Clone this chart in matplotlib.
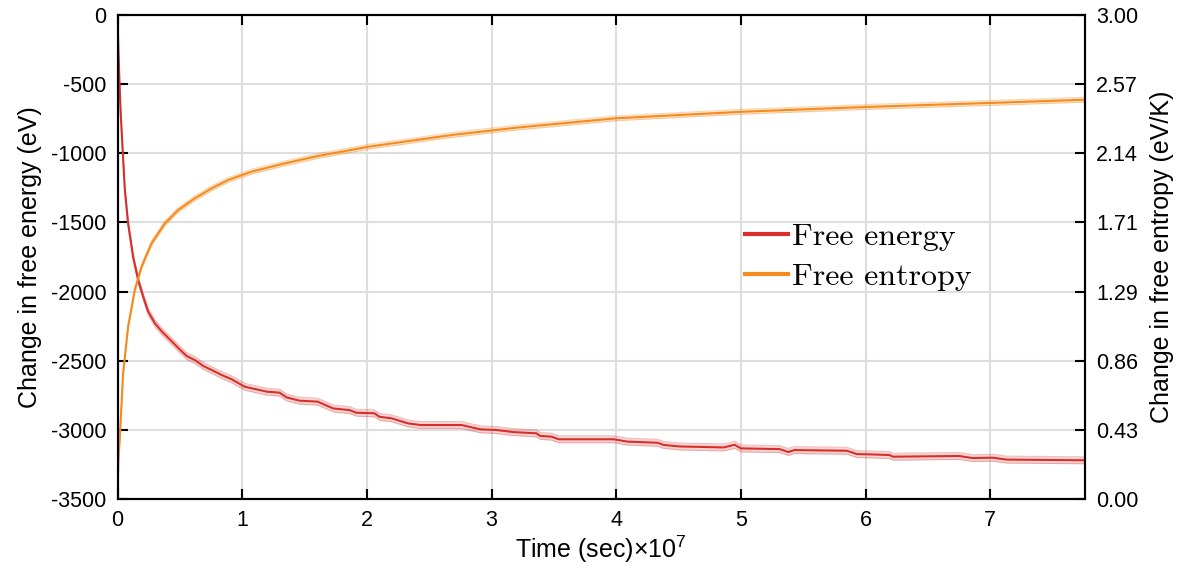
import numpy as np
import matplotlib.pyplot as plt
from matplotlib.lines import Line2D

plt.rcParams['font.family'] = 'Liberation Sans'
plt.rcParams['mathtext.fontset'] = 'custom'
plt.rcParams['mathtext.rm'] = 'Liberation Sans'
plt.rcParams['mathtext.it'] = 'Liberation Sans:italic'
plt.rcParams['axes.unicode_minus'] = False

# time in units of 1e7 sec
t_energy = [0, 0.004, 0.008, 0.012, 0.016, 0.025, 0.037, 0.059, 0.085, 0.125, 0.166,
            0.206, 0.246, 0.3, 0.357, 0.424, 0.49, 0.554, 0.62, 0.688, 0.755, 0.835,
            0.915, 1.02, 1.08, 1.2, 1.3, 1.355, 1.46, 1.605, 1.73, 1.86, 1.915, 2.06,
            2.1, 2.2, 2.33, 2.43, 2.76, 2.91, 3.04, 3.175, 3.36, 3.39, 3.48, 3.54,
            3.98, 4.09, 4.33, 4.38, 4.51, 4.86, 4.95, 5.0, 5.31, 5.38, 5.43, 5.85,
            5.93, 6.03, 6.19, 6.22, 6.75, 6.86, 7.02, 7.13, 7.76]
energy = [0, -150, -280, -390, -492, -700, -904, -1266, -1507, -1748, -1916,
          -2037, -2145, -2230, -2290, -2350, -2410, -2466, -2495, -2538, -2567, -2603,
          -2634, -2688, -2700, -2724, -2731, -2765, -2789, -2796, -2845, -2857, -2876,
          -2880, -2905, -2917, -2953, -2965, -2965, -2996, -3001, -3016, -3025, -3044,
          -3049, -3068, -3068, -3085, -3093, -3109, -3120, -3127, -3108, -3134, -3139,
          -3160, -3146, -3151, -3175, -3177, -3182, -3194, -3189, -3204, -3201, -3215,
          -3220]
energy_err = 25

t_entropy = [0, 0.003, 0.008, 0.019, 0.045, 0.085, 0.139, 0.193, 0.273, 0.38, 0.487,
             0.62, 0.755, 0.888, 1.075, 1.344, 1.6, 2.016, 2.688, 3.226, 4.0, 5.0,
             6.0, 7.0, 7.76]
entropy = [0, 0.12, 0.25, 0.386, 0.78, 1.068, 1.296, 1.44, 1.585, 1.709, 1.792,
           1.864, 1.926, 1.978, 2.029, 2.081, 2.125, 2.184, 2.257, 2.304, 2.36, 2.4,
           2.43, 2.455, 2.475]
entropy_err = 0.015

red = '#d7302c'
orange = '#f58b1f'

fig = plt.figure(figsize=(11.93, 5.69), dpi=100)
ax = fig.add_axes([0.0985, 0.123, 0.811, 0.8506])
ax2 = ax.twinx()

# free energy
e = np.array(energy)
ax.fill_between(t_energy, e - energy_err, e + energy_err, color=red, alpha=0.2, lw=0)
ax.plot(t_energy, e - energy_err, color=red, alpha=0.3, lw=0.8)
ax.plot(t_energy, e + energy_err, color=red, alpha=0.3, lw=0.8)
ax.plot(t_energy, e, color=red, lw=1.5)

# free entropy
s = np.array(entropy)
ax2.fill_between(t_entropy, s - entropy_err, s + entropy_err, color=orange, alpha=0.2, lw=0)
ax2.plot(t_entropy, s - entropy_err, color=orange, alpha=0.35, lw=0.8)
ax2.plot(t_entropy, s + entropy_err, color=orange, alpha=0.35, lw=0.8)
ax2.plot(t_entropy, s, color=orange, lw=1.5)

ax.set_xlim(0, 7.76)
ax.set_ylim(-3500, 0)
ax2.set_ylim(0, 3)
ax.set_xticks(range(8))
ax.set_yticks(range(-3500, 1, 500))
ax2.set_yticks(np.linspace(0, 3, 8))
ax2.set_yticklabels([f'{v:.2f}' for v in np.linspace(0, 3, 8)])

ax.grid(True, color='#dedede', lw=1.5)
ax.set_axisbelow(True)
for a in (ax, ax2):
    for sp in a.spines.values():
        sp.set_linewidth(1.5)
ax.tick_params(axis='x', direction='in', length=7, width=1.5, top=True,
               labelsize=15.5, pad=8)
ax.tick_params(axis='y', direction='in', length=7, width=1.5, labelsize=15.5, pad=8)
ax2.tick_params(axis='y', direction='in', length=7, width=1.5, labelsize=15.5, pad=8)

ax.set_xlabel('Time (sec)$\\times$10$^{7}$', fontsize=18, labelpad=2)
ax.set_ylabel('Change in free energy (eV)', fontsize=18, labelpad=6)
ax2.set_ylabel('Change in free entropy (eV/K)', fontsize=18, labelpad=8)

handles = [Line2D([], [], color=red, lw=3), Line2D([], [], color=orange, lw=3)]
ax2.legend(handles, ['Free energy', 'Free entropy'], loc='center left',
           bbox_to_anchor=(0.6486, 0.5), frameon=False, borderpad=0,
           borderaxespad=0, handlelength=1.33, handletextpad=0.15,
           labelspacing=0.35, prop={'family': 'cmr10', 'size': 23})

fig.savefig('out.png', dpi=100)
